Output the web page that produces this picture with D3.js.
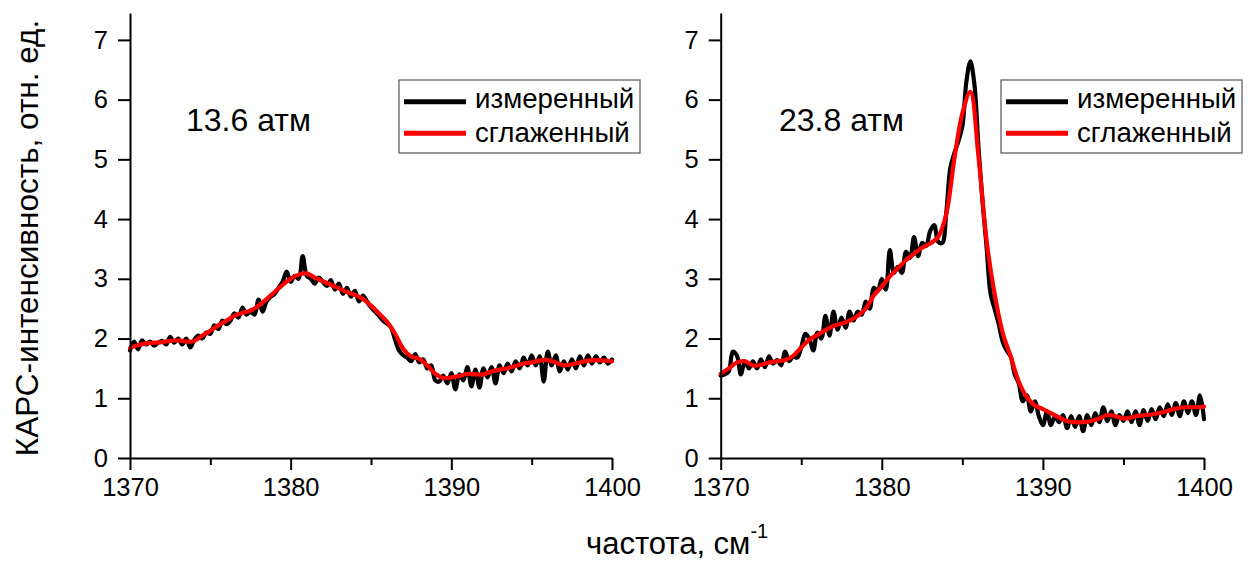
<!DOCTYPE html>
<html><head><meta charset="utf-8">
<script src="https://cdn.jsdelivr.net/npm/d3@7"></script>
<style>
html,body{margin:0;padding:0;background:#fff;}
svg{display:block;font-family:"Liberation Sans",Arial,sans-serif;}
</style></head>
<body>
<svg id="chart" width="1251" height="565"></svg>
<script>
// ---------- data ----------
const xTicks = [1370, 1380, 1390, 1400];
const xMinorTicks = [1375, 1385, 1395];
const yTicks = [0, 1, 2, 3, 4, 5, 6, 7];
const panelLabels = ["13.6 атм", "23.8 атм"];
const seriesNames = ["измеренный", "сглаженный"];
const xAxisTitle = "частота, см";
const yAxisTitle = "КАРС-интенсивность, отн. ед.";

// measured, step 0.25 cm^-1 starting at 1370
const measured136 = [
 1.80,1.95,1.82,1.97,1.90,1.95,1.88,1.93,1.96,1.90,2.03,1.93,2.00,1.90,2.00,1.85,
 1.98,2.05,2.00,2.10,2.08,2.22,2.16,2.30,2.24,2.30,2.42,2.35,2.52,2.40,2.45,2.40,
 2.65,2.45,2.62,2.70,2.75,2.85,2.95,3.12,2.95,3.05,3.00,3.38,3.05,3.00,2.92,3.02,
 2.95,2.88,2.98,2.82,2.92,2.75,2.85,2.70,2.80,2.62,2.72,2.62,2.52,2.45,2.38,2.30,
 2.25,2.18,1.98,1.80,1.72,1.68,1.62,1.74,1.60,1.65,1.50,1.55,1.30,1.28,1.38,1.25,
 1.42,1.15,1.40,1.30,1.52,1.20,1.48,1.18,1.50,1.35,1.52,1.25,1.55,1.42,1.58,1.45,
 1.62,1.50,1.68,1.55,1.72,1.55,1.70,1.28,1.78,1.55,1.72,1.45,1.62,1.48,1.65,1.50,
 1.70,1.55,1.72,1.58,1.70,1.60,1.68,1.58,1.65
];
const measured238 = [
 1.38,1.40,1.45,1.78,1.72,1.40,1.62,1.50,1.62,1.50,1.65,1.52,1.70,1.58,1.64,1.55,
 1.78,1.62,1.70,1.68,1.85,2.08,2.00,1.80,2.10,2.00,2.38,2.05,2.45,2.15,2.35,2.18,
 2.45,2.30,2.45,2.40,2.62,2.50,2.85,2.80,3.00,2.82,3.48,3.10,3.20,3.10,3.45,3.35,
 3.70,3.38,3.60,3.55,3.80,3.90,3.62,3.60,4.10,4.85,5.10,5.30,5.55,6.30,6.64,6.25,
 5.20,4.30,3.55,2.75,2.50,2.25,1.95,1.80,1.70,1.40,1.25,0.95,1.05,0.78,0.95,0.70,
 0.55,0.78,0.55,0.70,0.60,0.72,0.50,0.70,0.52,0.70,0.45,0.72,0.55,0.75,0.60,0.85,
 0.62,0.78,0.55,0.72,0.62,0.78,0.60,0.78,0.55,0.80,0.62,0.82,0.65,0.85,0.70,0.90,
 0.72,0.92,0.70,0.95,0.75,0.95,0.72,1.05,0.65
];
// smoothed, step 0.5 cm^-1 starting at 1370
const smoothed136 = [
 1.84,1.89,1.92,1.93,1.94,1.96,1.97,1.95,1.96,2.05,2.13,2.22,2.30,2.38,2.43,2.47,
 2.55,2.66,2.78,2.90,3.00,3.07,3.09,3.02,2.96,2.90,2.84,2.78,2.73,2.66,2.55,2.42,
 2.28,2.08,1.83,1.70,1.66,1.55,1.41,1.34,1.35,1.37,1.41,1.40,1.40,1.45,1.48,1.50,
 1.54,1.58,1.60,1.63,1.64,1.60,1.55,1.57,1.60,1.63,1.64,1.63,1.62
];
const smoothed238 = [
 1.41,1.50,1.60,1.62,1.55,1.56,1.60,1.62,1.64,1.71,1.85,1.98,2.06,2.14,2.21,2.25,
 2.30,2.38,2.50,2.72,2.87,3.04,3.18,3.31,3.42,3.52,3.59,3.70,4.08,5.00,5.77,6.13,
 5.05,3.65,2.75,2.10,1.70,1.28,1.02,0.88,0.82,0.75,0.68,0.62,0.60,0.60,0.62,0.66,
 0.72,0.70,0.66,0.68,0.71,0.72,0.74,0.77,0.81,0.84,0.85,0.85,0.86
];

// ---------- drawing ----------
const svg = d3.select("#chart");
const X0 = 1370;
const toPts = (arr, step) => arr.map((v, i) => ({x: X0 + i * step, y: v}));

const panels = [
  {range: [130, 612], meas: toPts(measured136, 0.25), smooth: toPts(smoothed136, 0.5),
   label: panelLabels[0], labelX: 186, legendX: 399},
  {range: [720.7, 1204], meas: toPts(measured238, 0.25), smooth: toPts(smoothed238, 0.5),
   label: panelLabels[1], labelX: 779, legendX: 1001}
];

const yScale = d3.scaleLinear().domain([0, 7.45]).range([458, 13]);

panels.forEach(p => {
  const xScale = d3.scaleLinear().domain([1370, 1400]).range(p.range);
  const g = svg.append("g");

  const line = d3.line().x(d => xScale(d.x)).y(d => yScale(d.y)).curve(d3.curveCatmullRom.alpha(0.5));

  g.append("path").datum(p.meas).attr("d", line)
    .attr("fill", "none").attr("stroke", "#000").attr("stroke-width", 4.2)
    .attr("stroke-linejoin", "round").attr("stroke-linecap", "round");
  g.append("path").datum(p.smooth).attr("d", line)
    .attr("fill", "none").attr("stroke", "#ff0000").attr("stroke-width", 4.2)
    .attr("stroke-linejoin", "round").attr("stroke-linecap", "round");

  // x axis
  const xAxis = d3.axisBottom(xScale).tickValues(xTicks).tickFormat(d3.format("d"))
    .tickSize(12).tickPadding(8).tickSizeOuter(0);
  const gx = g.append("g").attr("transform", `translate(0,${yScale(0)})`).call(xAxis);
  gx.selectAll(".tick line").attr("stroke-width", 2);
  gx.select(".domain").attr("stroke-width", 2);
  gx.selectAll("text").attr("font-size", 25.5).attr("fill", "#000")
    .attr("font-family", "Liberation Sans, Arial, sans-serif");
  const xMinor = d3.axisBottom(xScale).tickValues(xMinorTicks).tickFormat("").tickSize(7).tickSizeOuter(0);
  const gxm = g.append("g").attr("transform", `translate(0,${yScale(0)})`).call(xMinor);
  gxm.select(".domain").remove();
  gxm.selectAll(".tick line").attr("stroke-width", 2);

  // y axis
  const yAxis = d3.axisLeft(yScale).tickValues(yTicks).tickFormat(d3.format("d"))
    .tickSize(12).tickPadding(10).tickSizeOuter(0);
  const gy = g.append("g").attr("transform", `translate(${p.range[0]},0)`).call(yAxis);
  gy.selectAll(".tick line").attr("stroke-width", 2);
  gy.select(".domain").attr("stroke-width", 2);
  gy.selectAll("text").attr("font-size", 25.5).attr("fill", "#000")
    .attr("font-family", "Liberation Sans, Arial, sans-serif");

  // panel label
  g.append("text").attr("x", p.labelX).attr("y", 131).attr("font-size", 32)
    .attr("fill", "#000").text(p.label);

  // legend
  const lg = g.append("g").attr("transform", `translate(${p.legendX},80)`);
  lg.append("rect").attr("x", 0).attr("y", 0).attr("width", 241).attr("height", 73)
    .attr("fill", "#fff").attr("stroke", "#555").attr("stroke-width", 1.2);
  [["#000", 21.7, 28.3], ["#ff0000", 53.3, 61.5]].forEach((s, i) => {
    lg.append("line").attr("x1", 5).attr("x2", 67).attr("y1", s[1]).attr("y2", s[1])
      .attr("stroke", s[0]).attr("stroke-width", 5);
    lg.append("text").attr("x", 76).attr("y", s[2]).attr("font-size", 27.7)
      .attr("fill", "#000").text(seriesNames[i]);
  });
});

// axis titles
const xt = svg.append("text").attr("x", 586).attr("y", 554).attr("font-size", 31).attr("fill", "#000");
xt.append("tspan").text(xAxisTitle);
xt.append("tspan").attr("dy", -16).attr("font-size", 20).text("-1");

svg.append("text").attr("transform", "translate(38,238) rotate(-90)")
  .attr("text-anchor", "middle").attr("font-size", 31.5).attr("fill", "#000").text(yAxisTitle);
</script>
</body></html>
